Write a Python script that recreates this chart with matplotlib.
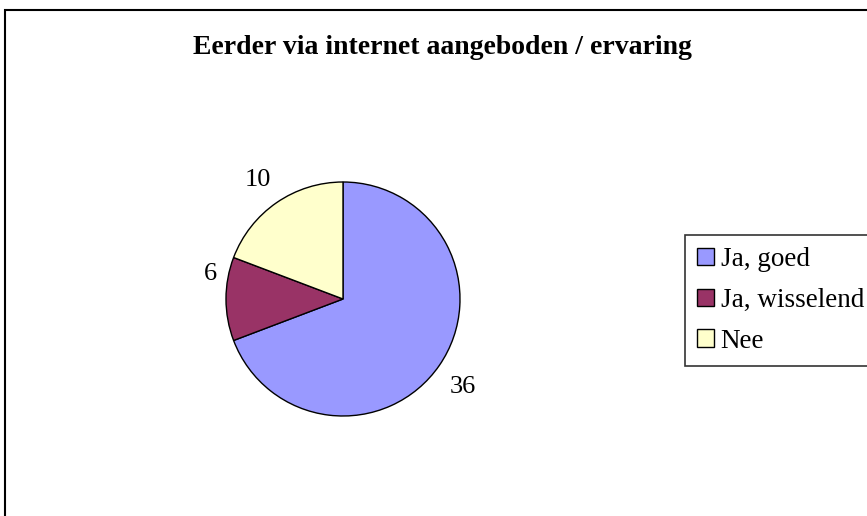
import matplotlib
matplotlib.use("Agg")
import matplotlib.pyplot as plt
from matplotlib.patches import Rectangle
from matplotlib.transforms import offset_copy

title = "Eerder via internet aangeboden / ervaring"
categories = ["Ja, goed", "Ja, wisselend", "Nee"]
values = [36, 6, 10]
colors = ["#9999FF", "#993366", "#FFFFCC"]

W, H = 867, 516
fig = plt.figure(figsize=(W / 100, H / 100), dpi=100)
fig.patch.set_facecolor("white")

# outer chart border (extends past right / bottom edge)
fig.patches.append(Rectangle((5 / W, -0.1), 1.2, 1 - 10 / H + 0.1,
                             transform=fig.transFigure, fill=False,
                             edgecolor="black", linewidth=1.5))

serif = ["Liberation Serif", "DejaVu Serif"]

fig.text(442 / W, 1 - 48 / H, title, ha="center", va="center",
         fontsize=20, fontweight="bold", family=serif)

ax = fig.add_axes([0, 0, 1, 1])
cx, cy, r = 343, H - 299, 117
wedges, texts = ax.pie(values, colors=colors, startangle=90, counterclock=False,
                       center=(cx, cy), radius=r,
                       labels=[str(v) for v in values], labeldistance=1.24,
                       wedgeprops=dict(edgecolor="black", linewidth=1.0),
                       frame=True)
ax.set_xlim(0, W)
ax.set_ylim(0, H)
ax.set_aspect("equal")
ax.axis("off")

# small label nudges (points) to mimic the original label placement
nudges = [(0, -4), (9, 18), (-2, 0)]
for t, (dx, dy) in zip(texts, nudges):
    t.set_ha("center")
    t.set_va("center")
    t.set_fontsize(19)
    t.set_family(serif)
    t.set_transform(offset_copy(t.get_transform(), fig=fig, x=dx, y=dy, units="points"))

leg = fig.legend(wedges, categories, loc="upper left",
                 bbox_to_anchor=(685 / W, 1 - 235 / H),
                 prop=dict(family=serif, size=19.5),
                 frameon=True, fancybox=False, edgecolor="black",
                 handlelength=0.62, handleheight=0.62, handletextpad=0.25,
                 labelspacing=0.58, borderpad=0.45, borderaxespad=0)
leg.get_frame().set_linewidth(1.2)

fig.savefig("out.png", dpi=100, facecolor="white")
